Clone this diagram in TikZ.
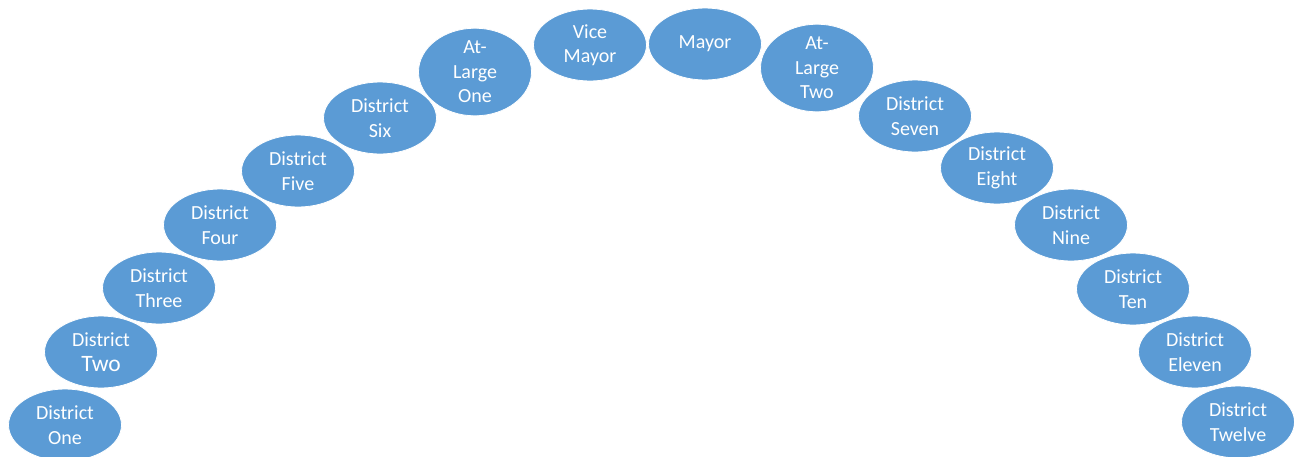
\documentclass[tikz,border=0pt]{standalone}
\usepackage{fontspec}
\setmainfont{Carlito}
\usetikzlibrary{shapes.geometric}
\definecolor{oval}{HTML}{5B9BD5}
\tikzset{
  seat/.style={ellipse, fill=oval, draw=white, line width=0.8pt,
    minimum width=113pt, minimum height=72pt, inner sep=0pt,
    text=white, align=center, font=\fontsize{20}{24.5}\selectfont}
}
\begin{document}
\begin{tikzpicture}[x=1pt,y=-1pt]
\useasboundingbox (0,0) rectangle (1294,456);
\clip (0,0) rectangle (1294,456);
\node[seat] (d1) at (65,425) {District\\One};
\node[seat] (d2) at (101,352) {District\\{\fontsize{23.5}{27}\selectfont Two}};
\node[seat] (d3) at (159,288) {District\\Three};
\node[seat] (d4) at (220,225) {District\\Four};
\node[seat] (d5) at (298,171) {District\\Five};
\node[seat] (d6) at (380,118) {District\\Six};
\node[seat] (al1) at (475,72) {At-\\Large\\One};
\node[seat] (vm) at (590,45) {Vice\\Mayor};
\node[seat] (mayor) at (705,44) {Mayor};
\node[seat] (al2) at (817,68) {At-\\Large\\Two};
\node[seat] (d7) at (915,116) {District\\Seven};
\node[seat] (d8) at (997,168) {District\\Eight};
\node[seat] (d9) at (1071,225) {District\\Nine};
\node[seat] (d10) at (1133,289) {District\\Ten};
\node[seat] (d11) at (1195,352) {District\\Eleven};
\node[seat] (d12) at (1238,422) {District\\Twelve};
\end{tikzpicture}
\end{document}
